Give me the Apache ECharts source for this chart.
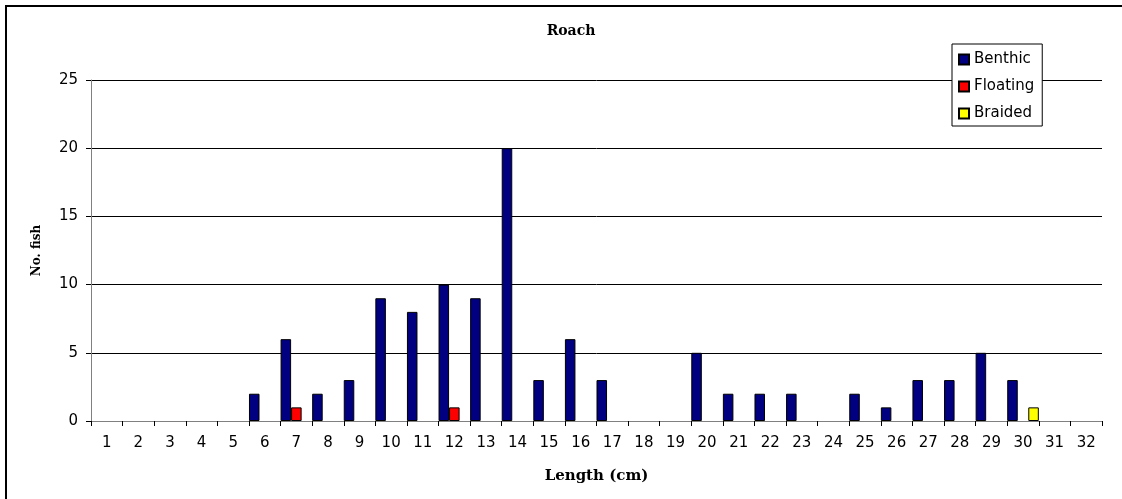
<!DOCTYPE html>
<html>
<head>
<meta charset="utf-8">
<script src="https://cdn.jsdelivr.net/npm/echarts@6/dist/echarts.min.js"></script>
<style>html,body{margin:0;padding:0;background:#fff;}#c{width:1122px;height:499px;}</style>
</head>
<body>
<div id="c"></div>
<script>
var categories = ['1','2','3','4','5','6','7','8','9','10','11','12','13','14','15','16','17','18','19','20','21','22','23','24','25','26','27','28','29','30','31','32'];
var benthic  = [0,0,0,0,0,2,6,2,3,9,8,10,9,20,3,6,3,0,0,5,2,2,2,0,2,1,3,3,5,3,0,0];
var floating = [0,0,0,0,0,0,1,0,0,0,0,1,0,0,0,0,0,0,0,0,0,0,0,0,0,0,0,0,0,0,0,0];
var braided  = [0,0,0,0,0,0,0,0,0,0,0,0,0,0,0,0,0,0,0,0,0,0,0,0,0,0,0,0,0,1,0,0];
var yTicks = [0,5,10,15,20,25];

var chart = echarts.init(document.getElementById('c'), null, {renderer:'canvas'});
var sans = 'DejaVu Sans';
var serif = 'DejaVu Serif';
function zeroToNull(a){return a.map(function(v){return v===0?null:v;});}
chart.setOption({
  animation:false,
  backgroundColor:'#fff',
  graphic:[{type:'rect',shape:{x:6,y:6,width:1130,height:510},style:{fill:null,stroke:'#000',lineWidth:2},silent:true,z:-1}],
  title:{text:'Roach',left:566,top:19,textAlign:'center',textStyle:{fontFamily:serif,fontWeight:'bold',fontSize:14,color:'#000'}},
  legend:{orient:'vertical',left:952,top:44,padding:[8,8,5,6],itemGap:12,itemWidth:10,itemHeight:10,
    backgroundColor:'#fff',borderColor:'#000',borderWidth:1,icon:'rect',
    textStyle:{fontFamily:sans,fontSize:15,color:'#000'},
    data:['Benthic','Floating','Braided']},
  grid:{left:91,right:20,top:80,bottom:78,containLabel:false},
  xAxis:{type:'category',data:categories,boundaryGap:true,
    name:'Length (cm)',nameLocation:'middle',nameGap:48,
    nameTextStyle:{fontFamily:serif,fontWeight:'bold',fontSize:15,color:'#000'},
    axisLine:{lineStyle:{color:'#808080',width:1}},
    axisTick:{show:true,length:5,lineStyle:{color:'#000'}},
    axisLabel:{fontFamily:sans,fontSize:15,color:'#000',margin:15,interval:0},
    splitLine:{show:false}},
  yAxis:{type:'value',min:0,max:25,interval:5,
    name:'No. fish',nameLocation:'middle',nameGap:48,
    nameTextStyle:{fontFamily:serif,fontWeight:'bold',fontSize:12,color:'#000'},
    axisLine:{show:true,lineStyle:{color:'#808080',width:1}},
    axisTick:{show:true,length:5,lineStyle:{color:'#000'}},
    axisLabel:{fontFamily:sans,fontSize:15,color:'#000',margin:13,
      formatter:function(v){return yTicks.indexOf(v)>=0?String(v):'';}},
    splitLine:{show:true,lineStyle:{color:'#000',width:1}}},
  series:[
    {name:'Benthic',type:'bar',data:zeroToNull(benthic),barGap:'0%',barCategoryGap:'0%',
      itemStyle:{color:'#000080',borderColor:'#000',borderWidth:1}},
    {name:'Floating',type:'bar',data:zeroToNull(floating),barGap:'0%',barCategoryGap:'0%',
      itemStyle:{color:'#ff0000',borderColor:'#000',borderWidth:1}},
    {name:'Braided',type:'bar',data:zeroToNull(braided),barGap:'0%',barCategoryGap:'0%',
      itemStyle:{color:'#ffff00',borderColor:'#000',borderWidth:1}}
  ]
});
</script>
</body>
</html>
